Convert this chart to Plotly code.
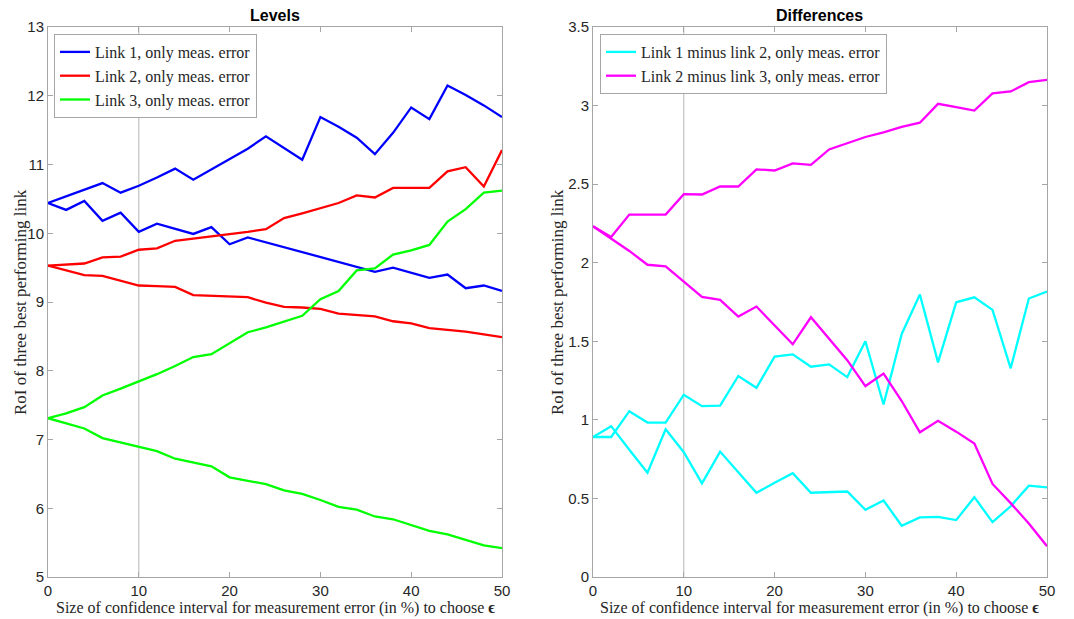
import plotly.graph_objects as go

x_vals = list(range(0, 51, 2))

link1_upper = [10.44, 10.54, 10.63, 10.73, 10.59, 10.69, 10.81, 10.94, 10.78, 10.93, 11.07, 11.23, 11.41,
               11.24, 11.07, 11.69, 11.55, 11.39, 11.15, 11.46, 11.83, 11.66, 12.15, 12.01, 11.86, 11.69]
link1_lower = [10.44, 10.34, 10.47, 10.18, 10.30, 10.02, 10.14, 10.06, 9.99, 10.09, 9.84, 9.94, 9.87,
               9.80, 9.72, 9.65, 9.58, 9.51, 9.44, 9.50, 9.42, 9.35, 9.40, 9.20, 9.24, 9.16]
link2_upper = [9.53, 9.54, 9.56, 9.65, 9.66, 9.76, 9.78, 9.89, 9.92, 9.95, 9.98, 10.02, 10.06,
               10.22, 10.29, 10.36, 10.44, 10.55, 10.52, 10.66, 10.66, 10.66, 10.90, 10.96, 10.68, 11.21]
link2_lower = [9.53, 9.46, 9.39, 9.38, 9.31, 9.24, 9.23, 9.22, 9.10, 9.09, 9.08, 9.07, 8.99,
               8.93, 8.92, 8.90, 8.83, 8.81, 8.79, 8.72, 8.69, 8.62, 8.60, 8.57, 8.53, 8.49]
link3_upper = [7.31, 7.38, 7.47, 7.64, 7.74, 7.84, 7.95, 8.07, 8.20, 8.24, 8.40, 8.56, 8.63,
               8.71, 8.80, 9.04, 9.16, 9.46, 9.49, 9.69, 9.75, 9.83, 10.17, 10.35, 10.59, 10.62]
link3_lower = [7.31, 7.23, 7.16, 7.02, 6.96, 6.89, 6.83, 6.72, 6.67, 6.61, 6.45, 6.40, 6.35,
               6.26, 6.21, 6.12, 6.02, 5.98, 5.88, 5.84, 5.76, 5.67, 5.62, 5.54, 5.46, 5.42]

diff12_upper = [0.891, 0.891, 1.055, 0.983, 0.983, 1.16, 1.087, 1.091, 1.279, 1.204, 1.402, 1.417, 1.338,
                1.353, 1.272, 1.50, 1.098, 1.547, 1.798, 1.366, 1.748, 1.78, 1.70, 1.328, 1.772, 1.817]
diff12_lower = [0.891, 0.96, 0.81, 0.664, 0.94, 0.794, 0.596, 0.798, 0.667, 0.536, 0.60, 0.66, 0.536,
                0.54, 0.544, 0.428, 0.487, 0.326, 0.379, 0.383, 0.362, 0.508, 0.349, 0.45, 0.581, 0.57]
diff23_upper = [2.232, 2.164, 2.306, 2.306, 2.306, 2.436, 2.434, 2.485, 2.485, 2.594, 2.587, 2.632, 2.623,
                2.721, 2.76, 2.80, 2.83, 2.865, 2.891, 3.011, 2.99, 2.968, 3.077, 3.09, 3.149, 3.164]
diff23_lower = [2.232, 2.155, 2.075, 1.987, 1.977, 1.88, 1.783, 1.764, 1.657, 1.721, 1.60, 1.481, 1.653,
                1.52, 1.38, 1.215, 1.294, 1.12, 0.921, 0.994, 0.925, 0.849, 0.592, 0.47, 0.34, 0.196]

x_ticks = [0, 10, 20, 30, 40, 50]
levels_ticks = [5, 6, 7, 8, 9, 10, 11, 12, 13]
diff_ticks = [0, 0.5, 1, 1.5, 2, 2.5, 3, 3.5]
diff_tick_text = ["0", "0.5", "1", "1.5", "2", "2.5", "3", "3.5"]
grid_x = 10

left_series = [
    ("Link 1, only meas. error", "#0000ff", link1_upper, link1_lower),
    ("Link 2, only meas. error", "#ff0000", link2_upper, link2_lower),
    ("Link 3, only meas. error", "#00ff00", link3_upper, link3_lower),
]
right_series = [
    ("Link 1 minus link 2, only meas. error", "#00ffff", diff12_upper, diff12_lower),
    ("Link 2 minus link 3, only meas. error", "#ff00ff", diff23_upper, diff23_lower),
]

# page body has an 8px margin; size the figure so it fills the window
OFF = 8
W, H = 1074 - OFF, 619 - OFF


def px(x):
    return (x - OFF) / W


def py(y):
    return (H - (y - OFF)) / H


SERIF = "Liberation Serif, DejaVu Serif, serif"
SANS = "Liberation Sans, Arial, sans-serif"
AXC = "#a6a6a6"
TXT = "#262626"

fig = go.Figure()

for name, col, up, lo in left_series:
    fig.add_trace(go.Scatter(x=x_vals, y=up, mode="lines", name=name, line=dict(color=col, width=2.3),
                             legendgroup=name, xaxis="x", yaxis="y", legend="legend"))
    fig.add_trace(go.Scatter(x=x_vals, y=lo, mode="lines", name=name, line=dict(color=col, width=2.3),
                             legendgroup=name, showlegend=False, xaxis="x", yaxis="y"))
for name, col, up, lo in right_series:
    fig.add_trace(go.Scatter(x=x_vals, y=up, mode="lines", name=name, line=dict(color=col, width=2.3),
                             legendgroup=name, xaxis="x2", yaxis="y2", legend="legend2"))
    fig.add_trace(go.Scatter(x=x_vals, y=lo, mode="lines", name=name, line=dict(color=col, width=2.3),
                             legendgroup=name, showlegend=False, xaxis="x2", yaxis="y2"))

ydom = [py(577), py(27)]
xdom1 = [px(48), px(502)]
xdom2 = [px(593), px(1047)]

common_axis = dict(showline=True, linecolor=AXC, linewidth=1, mirror="ticks", ticks="inside",
                   ticklen=5, tickcolor=AXC, showgrid=False, zeroline=False,
                   tickfont=dict(family=SANS, size=15, color=TXT), automargin=False)

legend_style = dict(xanchor="left", yanchor="top", bgcolor="white", bordercolor=AXC, borderwidth=1,
                    font=dict(family=SERIF, size=16, color=TXT), tracegroupgap=0, itemwidth=30)

fig.update_layout(
    width=W, height=H,
    margin=dict(l=0, r=0, t=0, b=0),
    paper_bgcolor="white", plot_bgcolor="white",
    xaxis=dict(domain=xdom1, range=[0, 50], tickvals=x_ticks, anchor="y", **common_axis),
    yaxis=dict(domain=ydom, range=[5, 13], tickvals=levels_ticks, anchor="x", **common_axis),
    xaxis2=dict(domain=xdom2, range=[0, 50], tickvals=x_ticks, anchor="y2", **common_axis),
    yaxis2=dict(domain=ydom, range=[0, 3.5], tickvals=diff_ticks, ticktext=diff_tick_text, anchor="x2", **common_axis),
    legend=dict(x=px(54), y=py(34), **legend_style),
    legend2=dict(x=px(600), y=py(34), **legend_style),
    showlegend=True,
)

for xr, yr in [("x", "y domain"), ("x2", "y2 domain")]:
    fig.add_shape(type="line", x0=grid_x, x1=grid_x, y0=0, y1=1, xref=xr, yref=yr,
                  line=dict(color="#b5b5b5", width=1), layer="below")

ann = []
xlab = "Size of confidence interval for measurement error (in %) to choose <b>ϵ</b>"
ylab = "RoI of three best performing link"
for dom, title, ylx in [(xdom1, "Levels", 20), (xdom2, "Differences", 557)]:
    cx = (dom[0] + dom[1]) / 2
    ann.append(dict(x=cx, y=py(16), xref="paper", yref="paper", text="<b>" + title + "</b>",
                    showarrow=False, font=dict(family=SANS, size=16, color="black"),
                    xanchor="center", yanchor="middle"))
    ann.append(dict(x=cx, y=py(608), xref="paper", yref="paper", text=xlab,
                    showarrow=False, font=dict(family=SERIF, size=16, color=TXT),
                    xanchor="center", yanchor="middle"))
    ann.append(dict(x=px(ylx), y=(ydom[0] + ydom[1]) / 2, xref="paper", yref="paper", text=ylab,
                    textangle=-90, showarrow=False, font=dict(family=SERIF, size=17, color=TXT),
                    xanchor="center", yanchor="middle"))
fig.update_layout(annotations=ann)

fig.write_html("out.html")
